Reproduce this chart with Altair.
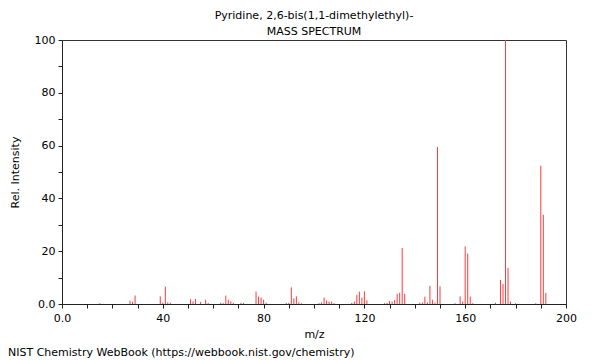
import altair as alt
import pandas as pd

mz = [15, 27, 28, 29, 39, 40, 41, 42, 43, 51, 52, 53, 55, 57, 58,
      63, 64, 65, 66, 67, 68, 71, 72, 77, 78, 79, 80, 81,
      89, 90, 91, 92, 93, 94, 95, 102, 103, 104, 105, 106, 107, 108,
      115, 116, 117, 118, 119, 120, 121, 128, 129, 130, 131, 132, 133, 134, 135, 136,
      142, 143, 144, 145, 146, 147, 148, 149, 150, 156, 158, 159, 160, 161, 162, 163,
      172, 174, 175, 176, 177, 178, 180, 188, 190, 191, 192]
intensity = [0.3, 1.3, 0.8, 3.2, 2.9, 0.5, 6.6, 0.6, 0.5, 1.8, 1.0, 1.9, 0.8, 1.6, 0.4,
             0.5, 0.3, 3.2, 1.6, 1.0, 0.4, 0.4, 0.4, 4.7, 2.8, 2.5, 1.6, 0.5,
             0.4, 0.4, 6.3, 2.1, 2.9, 0.6, 0.3, 0.3, 0.6, 2.4, 1.3, 0.9, 0.9, 0.3,
             0.4, 0.9, 3.5, 4.7, 2.4, 4.8, 1.4, 0.3, 0.4, 1.1, 0.9, 1.5, 3.9, 4.3, 21.2, 3.8,
             0.5, 0.6, 2.8, 0.6, 6.9, 1.6, 0.5, 59.5, 6.7, 0.3, 2.9, 0.9, 21.8, 19.1, 2.8, 0.3,
             0.5, 9.1, 7.6, 100.0, 13.7, 0.9, 0.3, 0.3, 52.4, 33.8, 4.2]

title_lines = ["Pyridine, 2,6-bis(1,1-dimethylethyl)-", "MASS SPECTRUM"]
footer_text = ["NIST Chemistry WebBook (https://webbook.nist.gov/chemistry)"]
x_ticks = list(range(0, 201, 10))
y_ticks = list(range(0, 101, 10))

FONT = "DejaVu Sans"

df = pd.DataFrame({"mz": mz, "intensity": intensity})

spectrum = alt.Chart(df).mark_rule(color="#ff3a3a", strokeWidth=1).encode(
    x=alt.X("mz:Q", scale=alt.Scale(domain=[0, 200], nice=False),
            axis=alt.Axis(title="m/z", values=x_ticks, grid=False,
                          labelExpr="datum.value % 40 == 0 ? (datum.value == 0 ? '0.0' : datum.label) : ''",
                          labelFlush=False, labelOverlap=False,
                          tickSize=4, labelPadding=4, titlePadding=5)),
    y=alt.Y("intensity:Q", scale=alt.Scale(domain=[0, 100], nice=False),
            axis=alt.Axis(title="Rel. Intensity", values=y_ticks, grid=False,
                          labelExpr="datum.value % 20 == 0 ? (datum.value == 0 ? '0.0' : datum.label) : ''",
                          labelFlush=False, labelOverlap=False,
                          tickSize=4, labelPadding=3, titlePadding=14)),
    y2=alt.datum(0),
)

footer = alt.Chart(pd.DataFrame({"t": footer_text})).mark_text(
    align="left", baseline="middle", fontSize=11, font=FONT, color="black"
).encode(text="t:N", x=alt.value(-54), y=alt.value(313))

chart = alt.layer(spectrum, footer).properties(
    width=504, height=264,
    title=alt.TitleParams(text=title_lines, anchor="middle", fontSize=11, font=FONT,
                          fontWeight="normal", color="black", lineHeight=16, offset=-3),
    autosize=alt.AutoSizeParams(type="none"),
    padding={"left": 54, "top": 32, "right": 26, "bottom": 56},
).configure_view(
    stroke="#333333", strokeWidth=1
).configure_axis(
    labelFont=FONT, titleFont=FONT, labelFontSize=11, titleFontSize=11,
    titleFontWeight="normal", labelColor="black", titleColor="black",
    domainColor="#222222", tickColor="#222222"
)

chart.save("out.html", embed_options={"renderer": "svg", "actions": False})
